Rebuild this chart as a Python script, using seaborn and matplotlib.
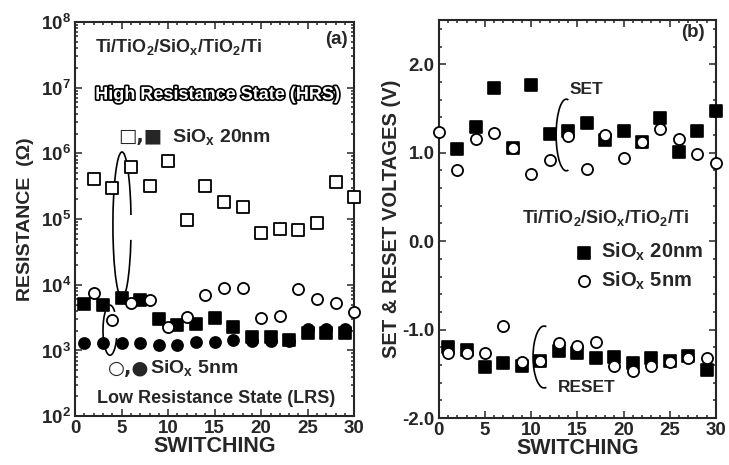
import numpy as np
import matplotlib
matplotlib.use("Agg")
import matplotlib.pyplot as plt
import matplotlib.patheffects as pe
from matplotlib.patches import Arc
from matplotlib.ticker import LogLocator, MultipleLocator, FuncFormatter, NullFormatter
import seaborn as sns

# (a) resistance vs switching cycle
x_even = [2, 4, 6, 8, 10, 12, 14, 16, 18, 20, 22, 24, 26, 28, 30]
x_odd = [1, 3, 5, 7, 9, 11, 13, 15, 17, 19, 21, 23, 25, 27, 29]
hrs_20nm = [4.1e5, 3.0e5, 6.2e5, 3.2e5, 7.6e5, 9.8e4, 3.2e5, 1.8e5, 1.5e5,
            6.1e4, 7.1e4, 6.8e4, 8.7e4, 3.6e5, 2.2e5]
lrs_20nm = [5.1e3, 4.9e3, 6.3e3, 5.8e3, 3.0e3, 2.4e3, 2.5e3, 3.1e3, 2.3e3,
            1.6e3, 1.6e3, 1.45e3, 1.85e3, 1.85e3, 1.85e3]
hrs_5nm = [7.5e3, 2.9e3, 5.2e3, 5.8e3, 2.3e3, 3.2e3, 6.9e3, 8.9e3, 8.9e3,
           3.1e3, 3.4e3, 8.7e3, 6.0e3, 5.2e3, 3.9e3]
lrs_5nm = [1.3e3, 1.28e3, 1.3e3, 1.3e3, 1.23e3, 1.2e3, 1.35e3, 1.35e3, 1.45e3,
           1.4e3, 1.4e3, 1.4e3, 2.1e3, 2.1e3, 2.1e3]

# (b) set / reset voltages
x_set_5nm = [0, 2, 4, 6, 8, 10, 12, 14, 16, 18, 20, 22, 24, 26, 28, 30]
set_20nm = [1.04, 1.29, 1.73, 1.05, 1.76, 1.21, 1.25, 1.34, 1.14, 1.25, 1.12,
            1.39, 1.01, 1.24, 1.47]
set_5nm = [1.23, 0.80, 1.16, 1.22, 1.05, 0.76, 0.92, 1.19, 0.81, 1.20, 0.94,
           1.12, 1.27, 1.15, 0.98, 0.88]
reset_20nm = [-1.20, -1.23, -1.42, -1.38, -1.41, -1.36, -1.24, -1.27, -1.32,
              -1.31, -1.38, -1.32, -1.36, -1.30, -1.46]
reset_5nm = [-1.27, -1.26, -1.27, -0.96, -1.37, -1.36, -1.15, -1.19, -1.14,
             -1.41, -1.47, -1.41, -1.37, -1.32, -1.32]

sns.set_style("ticks")
plt.rcParams['font.family'] = ['Liberation Sans', 'DejaVu Sans']
plt.rcParams['font.weight'] = 'bold'
plt.rcParams['axes.labelweight'] = 'bold'
plt.rcParams['axes.unicode_minus'] = False
plt.rcParams['mathtext.fontset'] = 'custom'
plt.rcParams['mathtext.bf'] = 'Liberation Sans:bold'
plt.rcParams['mathtext.rm'] = 'Liberation Sans:bold'
plt.rcParams['mathtext.it'] = 'Liberation Sans:bold'
plt.rcParams['mathtext.default'] = 'bf'

fig = plt.figure(figsize=(7.29, 4.65), dpi=100)
ax1 = fig.add_axes([0.103, 0.105, 0.383, 0.848])
ax2 = fig.add_axes([0.602, 0.101, 0.380, 0.856])

filled = dict(color='black', edgecolor='black', linewidth=1.2, s=64, clip_on=False, zorder=3)
hollow = dict(facecolor='white', edgecolor='black', linewidth=1.3, s=64, clip_on=False, zorder=4)
sym = ['DejaVu Sans']

# panel (a)
sns.scatterplot(x=x_odd, y=lrs_20nm, marker='s', ax=ax1, **filled)
sns.scatterplot(x=x_odd, y=lrs_5nm, marker='o', ax=ax1, **filled)
sns.scatterplot(x=x_even, y=hrs_20nm, marker='s', ax=ax1, **hollow)
sns.scatterplot(x=x_even, y=hrs_5nm, marker='o', ax=ax1, **hollow)
ax1.set_yscale('log')
ax1.set_xlim(0, 30)
ax1.set_ylim(1e2, 1e8)
ax1.xaxis.set_major_locator(MultipleLocator(5))
ax1.xaxis.set_minor_locator(MultipleLocator(1))
ax1.yaxis.set_major_locator(LogLocator(base=10, numticks=10))
ax1.yaxis.set_minor_locator(LogLocator(base=10, subs=np.arange(2, 10), numticks=10))
ax1.yaxis.set_major_formatter(FuncFormatter(lambda v, p: f'$10^{{{int(round(np.log10(v)))}}}$'))
ax1.yaxis.set_minor_formatter(NullFormatter())
ax1.set_xlabel('SWITCHING', fontsize=15.5, labelpad=-1)
ax1.set_ylabel('RESISTANCE  (Ω)', fontsize=14, labelpad=5)

t = ax1.transAxes
ax1.text(0.072, 0.937, 'Ti/TiO$_2$/SiO$_x$/TiO$_2$/Ti', transform=t, fontsize=13, va='center')
ax1.text(0.935, 0.954, '(a)', transform=t, fontsize=13.5, ha='center', va='center')
ax1.text(0.072, 0.815, 'High Resistance State (HRS)', transform=t, fontsize=13,
         va='center', color='white',
         path_effects=[pe.withStroke(linewidth=2.4, foreground='black')])
ax1.text(0.154, 0.708, '□,■', transform=t, fontsize=14, va='center', family=sym)
ax1.text(0.348, 0.708, 'SiO$_x$ 20nm', transform=t, fontsize=14, va='center')
ax1.text(0.118, 0.122, '○,●', transform=t, fontsize=14, va='center', family=sym)
ax1.text(0.269, 0.122, 'SiO$_x$ 5nm', transform=t, fontsize=14, va='center')
ax1.text(0.079, 0.046, 'Low Resistance State (LRS)', transform=t, fontsize=13, va='center')
ax1.add_patch(Arc((0.168, 0.485), 0.065, 0.37, theta1=38, theta2=310,
                  transform=t, color='black', lw=1.2))
ax1.add_patch(Arc((0.125, 0.218), 0.05, 0.127, theta1=70, theta2=320,
                  transform=t, color='black', lw=1.2))

# panel (b)
sns.scatterplot(x=x_even, y=set_20nm, marker='s', ax=ax2, label='SiO$_x$ 20nm', **filled)
sns.scatterplot(x=x_odd, y=reset_20nm, marker='s', ax=ax2, **filled)
sns.scatterplot(x=x_set_5nm, y=set_5nm, marker='o', ax=ax2, label='SiO$_x$ 5nm', **hollow)
sns.scatterplot(x=x_odd, y=reset_5nm, marker='o', ax=ax2, **hollow)
ax2.set_xlim(0, 30)
ax2.set_ylim(-2.0, 2.5)
ax2.xaxis.set_major_locator(MultipleLocator(5))
ax2.xaxis.set_minor_locator(MultipleLocator(1))
ax2.set_yticks([-2.0, -1.0, 0.0, 1.0, 2.0])
ax2.yaxis.set_minor_locator(MultipleLocator(0.2))
ax2.yaxis.set_major_formatter(FuncFormatter(lambda v, p: f'{v:.1f}'))
ax2.set_xlabel('SWITCHING', fontsize=15.5, labelpad=-1)
ax2.set_ylabel('SET & RESET VOLTAGES (V)', fontsize=14.5, labelpad=1)
ax2.legend(loc='upper left', bbox_to_anchor=(0.46, 0.47), frameon=False,
           handlelength=0.8, handletextpad=0.4, labelspacing=0.3, borderpad=0,
           prop=dict(weight='bold', size=14.5))
ax2.text(27.5, 2.36, '(b)', fontsize=13.5, ha='center', va='center')
ax2.text(14.2, 1.71, 'SET', fontsize=12.5, va='center')
ax2.text(9.0, 0.26, 'Ti/TiO$_2$/SiO$_x$/TiO$_2$/Ti', fontsize=13, va='center')
ax2.text(12.9, -1.65, 'RESET', fontsize=12.5, va='center')
ax2.add_patch(Arc((13.8, 1.20), 2.2, 0.81, theta1=60, theta2=300, color='black', lw=1.2))
ax2.add_patch(Arc((11.4, -1.31), 2.4, 0.70, theta1=55, theta2=305, color='black', lw=1.2))

for ax in (ax1, ax2):
    ax.tick_params(which='both', direction='in', top=True, right=True, width=1.1,
                   labelsize=13.5, pad=3)
    ax.tick_params(which='major', length=5)
    ax.tick_params(which='minor', length=2.5)
    for sp in ax.spines.values():
        sp.set_linewidth(1.5)
    for lab in ax.get_xticklabels() + ax.get_yticklabels():
        lab.set_fontweight('bold')

fig.savefig('out.png', dpi=100)
